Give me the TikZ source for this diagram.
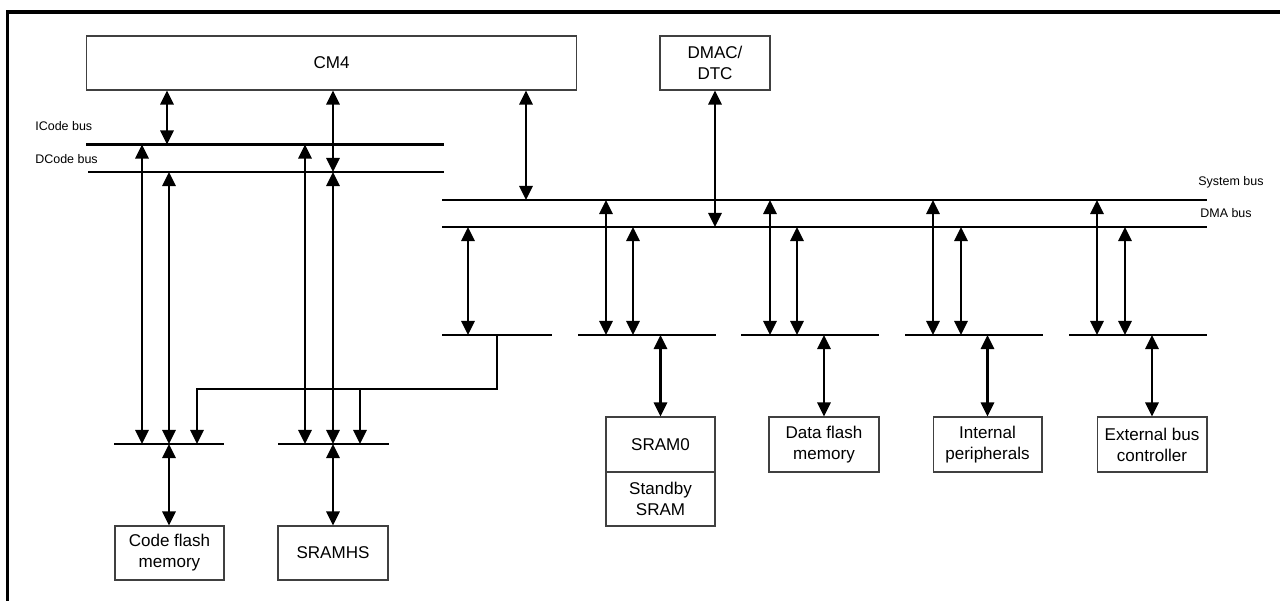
\documentclass[tikz,border=0pt]{standalone}
\usepackage{fontspec}
\setmainfont{Liberation Sans}
\usetikzlibrary{arrows.meta}
\begin{document}
\begin{tikzpicture}[x=0.02cm,y=-0.02cm,
  box/.style={draw=black!75,line width=0.6pt,inner sep=0pt,align=center,font=\fontsize{9.7}{12}\selectfont,minimum height=1.08cm},
  buslbl/.style={inner sep=0pt,anchor=base west,font=\fontsize{7.1}{8.5}\selectfont},
  busline/.style={line width=1.5pt},
  frameline/.style={line width=1.8pt},
  tipA/.tip={Triangle[length=8pt,width=7.5pt]},
  dbl/.style={line width=1.5pt,tipA-tipA},
  arr/.style={line width=1.5pt,-tipA}]
\useasboundingbox (0,0) rectangle (1280,601);
% frame
\coordinate (fb) at (7.5,601);
\coordinate (fc) at (7.5,12);
\coordinate (fr) at (1280,12);
\draw[frameline] (fb) -- (fc) -- (fr);

% boxes
\node[box,minimum width=9.82cm] (cm4) at (331.5,63) {CM4};
\node[box,minimum width=2.2cm] (dmac) at (715,63) {DMAC/\\DTC};
\node[box,minimum width=2.18cm] (cf) at (169.5,553) {Code flash\\memory};
\node[box,minimum width=2.2cm] (sramhs) at (333,553) {SRAMHS};
\node[box,minimum width=2.18cm,minimum height=1.1cm] (sram0) at (660.5,444.5) {SRAM0};
\node[box,minimum width=2.18cm] (stby) at (660.5,499) {Standby\\SRAM};
\node[box,minimum width=2.2cm,minimum height=1.1cm] (df) at (824,444.5) {Data flash\\memory};
\node[box,minimum width=2.18cm,minimum height=1.1cm] (ip) at (987.5,444.5) {Internal\\peripherals};
\node[box,minimum width=2.2cm,minimum height=1.1cm] (ebc) at (1152,444.5) {External bus\\controller};

% bus labels
\node[buslbl] (licode) at (35,131) {ICode bus};
\node[buslbl] (ldcode) at (35,163.3) {DCode bus};
\node[buslbl] (lsys) at (1198,185.5) {System bus};
\node[buslbl] (ldma) at (1200,217) {DMA bus};

% bus lines
\coordinate (icW) at (86,144.5);  \coordinate (icE) at (444,144.5);
\coordinate (dcW) at (88,172);    \coordinate (dcE) at (444,172);
\coordinate (sbW) at (442,200);   \coordinate (sbE) at (1207,200);
\coordinate (dmW) at (442,227);   \coordinate (dmE) at (1207,227);
\coordinate (l1W) at (442,335);   \coordinate (l1E) at (552,335);
\coordinate (l2W) at (578,335);   \coordinate (l2E) at (716,335);
\coordinate (l3W) at (741,335);   \coordinate (l3E) at (879,335);
\coordinate (l4W) at (905,335);   \coordinate (l4E) at (1043,335);
\coordinate (l5W) at (1069,335);  \coordinate (l5E) at (1207,335);
\coordinate (j1W) at (114,444);   \coordinate (j1E) at (224,444);
\coordinate (j2W) at (278,444);   \coordinate (j2E) at (389,444);
\foreach \a/\b in {icW/icE,dcW/dcE,sbW/sbE,dmW/dmE,l1W/l1E,l2W/l2E,l3W/l3E,l4W/l4E,l5W/l5E,j1W/j1E,j2W/j2E}
  \draw[busline] (\a) -- (\b);

% x positions
\foreach \x in {142,167,169,197,305,333,360,468,497,526,606,633,770,797,933,961,1097,1125}
  \coordinate (x\x) at (\x,0);
\coordinate (feed) at (0,389);

% CM4 / DMAC connections
\draw[dbl] (cm4.south -| x167) -- (icW -| x167);
\draw[dbl] (cm4.south -| x333) -- (dcW -| x333);
\draw[dbl] (cm4.south -| x526) -- (sbW -| x526);
\draw[dbl] (dmac.south) -- (dmW -| dmac.south);

% ICode / DCode to junctions
\draw[dbl] (icW -| x142) -- (j1W -| x142);
\draw[dbl] (dcW -| x169) -- (j1W -| x169);
\draw[dbl] (icW -| x305) -- (j2W -| x305);
\draw[dbl] (dcW -| x333) -- (j2W -| x333);

% System / DMA bus to lower buses
\draw[dbl] (dmW -| x468) -- (l1W -| x468);
\draw[dbl] (sbW -| x606) -- (l2W -| x606);
\draw[dbl] (dmW -| x633) -- (l2W -| x633);
\draw[dbl] (sbW -| x770) -- (l3W -| x770);
\draw[dbl] (dmW -| x797) -- (l3W -| x797);
\draw[dbl] (sbW -| x933) -- (l4W -| x933);
\draw[dbl] (dmW -| x961) -- (l4W -| x961);
\draw[dbl] (sbW -| x1097) -- (l5W -| x1097);
\draw[dbl] (dmW -| x1125) -- (l5W -| x1125);

% feed from first lower bus to junctions
\draw[arr] (l1W -| x497) |- (feed -| x197) -- (j1W -| x197);
\draw[arr] (feed -| x360) -- (j2W -| x360);

% junctions / lower buses to memories
\draw[dbl] (j1W -| x169) -- (cf.north -| x169);
\draw[dbl] (j2W -| sramhs.north) -- (sramhs.north);
\draw[dbl] (l2W -| sram0.north) -- (sram0.north);
\draw[dbl] (l3W -| df.north) -- (df.north);
\draw[dbl] (l4W -| ip.north) -- (ip.north);
\draw[dbl] (l5W -| ebc.north) -- (ebc.north);
\end{tikzpicture}
\end{document}
